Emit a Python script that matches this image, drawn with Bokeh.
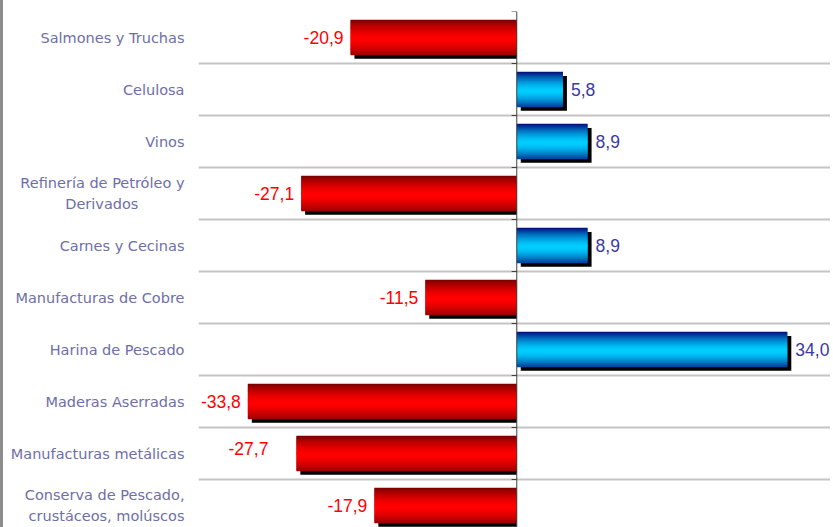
import numpy as np
from bokeh.plotting import figure
from bokeh.models import Range1d, FixedTicker, Span, ColumnDataSource
from bokeh.core.properties import value
from bokeh.embed import file_html
from bokeh.resources import INLINE

# ---------------- data ----------------
categories = [
    "Salmones y Truchas",
    "Celulosa",
    "Vinos",
    "Refinería de Petróleo y\nDerivados",
    "Carnes y Cecinas",
    "Manufacturas de Cobre",
    "Harina de Pescado",
    "Maderas Aserradas",
    "Manufacturas metálicas",
    "Conserva de Pescado,\ncrustáceos, molúscos",
]
values = [-20.9, 5.8, 8.9, -27.1, 8.9, -11.5, 34.0, -33.8, -27.7, -17.9]

# ---------------- style ----------------
CAT_COLOR = "#6e6ea8"
POS_LABEL = "#3a3aa0"
NEG_LABEL = "#ff0000"
GRID = "#c4c4c4"
BAR_H = 0.67
N_STRIPS = 34
SHADOW_DX = 0.5      # data units (~4px)
SHADOW_DY = 0.075    # data units (~4px)
label_nudge = {"Manufacturas metálicas": (-21, -5)}

BORDER = 3
W, H = 833 - BORDER, 527
LEFT, TOP = 198 - BORDER, 11
PX_PER_UNIT = 7.957
BAND_PX = 52.0

n = len(categories)
idx = np.arange(n, dtype=float)
vals = np.array(values)

x0 = -40.0
x1 = x0 + (W - LEFT) / PX_PER_UNIT
y_top = -0.5
y_bot = y_top + (H - TOP) / BAND_PX

p = figure(width=W, height=H,
           x_range=Range1d(x0, x1),
           y_range=Range1d(y_bot, y_top),
           output_backend="svg", toolbar_location=None,
           min_border_left=LEFT, min_border_top=TOP,
           min_border_right=0, min_border_bottom=0,
           background_fill_color="white", border_fill_color="white")
p.styles = {"border-left": "%dpx solid #8c8c8c" % BORDER}
p.outline_line_color = None
p.xaxis.visible = False
p.xgrid.visible = False

bounds = list(np.arange(n + 1) - 0.5)
p.ygrid.ticker = FixedTicker(ticks=bounds)
p.ygrid.grid_line_color = GRID
p.ygrid.grid_line_width = 2


def centered(label):
    lines = label.split("\n")
    if len(lines) == 1:
        return label
    m = max(len(l) for l in lines)
    out = []
    for l in lines:
        pad = int(round((m - len(l)) / 2 * 1.45))
        out.append(l + "\u00a0" * pad)
    return "\n".join(out)


ax = p.yaxis[0]
ax.ticker = FixedTicker(ticks=list(range(n)))
ax.major_label_overrides = {i: centered(c) for i, c in enumerate(categories)}
ax.axis_line_color = None
ax.major_tick_line_color = None
ax.minor_tick_line_color = None
ax.major_label_standoff = 8
ax.major_label_text_color = CAT_COLOR
ax.major_label_text_font = "DejaVu Sans"
ax.major_label_text_font_size = "14.5px"
ax.major_label_text_line_height = 1.28

# shadows
sh_left = np.where(vals < 0, vals + SHADOW_DX, SHADOW_DX)
sh_right = np.where(vals < 0, 0, vals + SHADOW_DX)
p.hbar(y=idx + SHADOW_DY, left=sh_left, right=sh_right, height=BAR_H,
       fill_color="black", line_color=None)

# gradient bars (horizontal strips)
def profile(s):
    d = np.abs(s - 0.55) / 0.55
    return np.clip(1 - d ** 1.6, 0, 1)

red_dark, red_bright = np.array([120, 0, 0]), np.array([255, 0, 0])
blue_dark, blue_bright = np.array([0, 10, 120]), np.array([0, 205, 255])

ys, ls, rs, cs = [], [], [], []
for k in range(N_STRIPS):
    s = (k + 0.5) / N_STRIPS
    f = profile(s)
    rc = red_dark + (red_bright - red_dark) * f
    bc = blue_dark + (blue_bright - blue_dark) * f
    rhex = "#%02x%02x%02x" % tuple(int(round(x)) for x in rc)
    bhex = "#%02x%02x%02x" % tuple(int(round(x)) for x in bc)
    for i in range(n):
        v = vals[i]
        ys.append(idx[i] - BAR_H / 2 + s * BAR_H)
        ls.append(min(v, 0))
        rs.append(max(v, 0))
        cs.append(rhex if v < 0 else bhex)
strips = ColumnDataSource(dict(y=ys, left=ls, right=rs, color=cs))
p.hbar(y="y", left="left", right="right", height=BAR_H / N_STRIPS * 1.8,
       fill_color="color", line_color=None, source=strips)

# zero axis with ticks
p.add_layout(Span(location=0, dimension="height", line_color="#404040", line_width=1))
p.segment(x0=[-0.65] * len(bounds), x1=[0] * len(bounds), y0=bounds, y1=bounds,
          line_color="#404040", line_width=1)

# value labels
lab = [("%.1f" % v).replace(".", ",") for v in values]
neg = [i for i in range(n) if vals[i] < 0]
pos = [i for i in range(n) if vals[i] >= 0]
neg_src = ColumnDataSource(dict(
    x=[vals[i] for i in neg], y=[idx[i] for i in neg], t=[lab[i] for i in neg],
    xo=[-7 + label_nudge.get(categories[i], (0, 0))[0] for i in neg],
    yo=[label_nudge.get(categories[i], (0, 0))[1] for i in neg]))
pos_src = ColumnDataSource(dict(
    x=[vals[i] for i in pos], y=[idx[i] for i in pos], t=[lab[i] for i in pos]))
p.text(x="x", y="y", text="t", x_offset="xo", y_offset="yo", source=neg_src,
       text_align="right", text_baseline="middle", text_color=NEG_LABEL,
       text_font=value("Liberation Sans"), text_font_size="17.5px")
p.text(x="x", y="y", text="t", x_offset=8, source=pos_src,
       text_align="left", text_baseline="middle", text_color=POS_LABEL,
       text_font=value("Liberation Sans"), text_font_size="17.5px")

open("out.html", "w").write(file_html(p, INLINE))
